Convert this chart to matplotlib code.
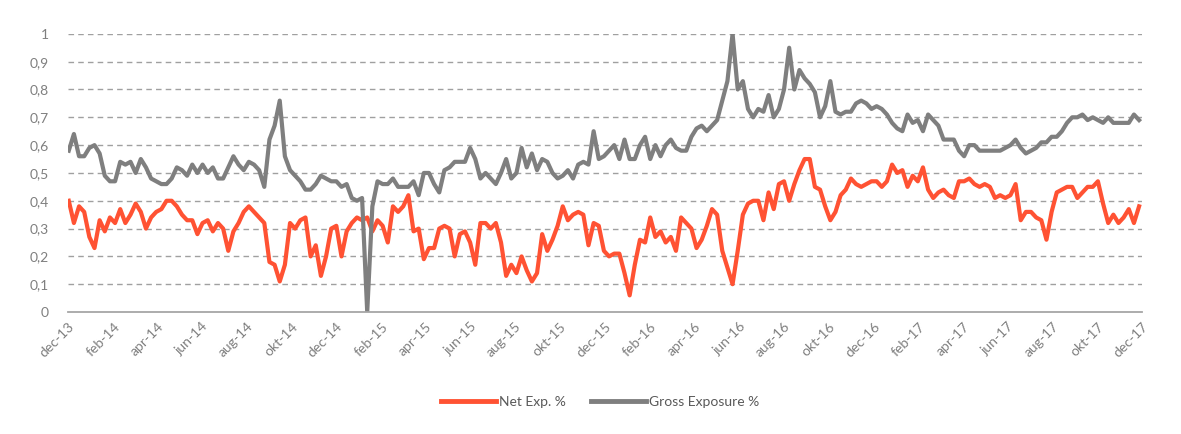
# Net / gross exposure, weekly values
import matplotlib.pyplot as plt
import pandas as pd

weeks = pd.date_range('2013-12-02', periods=209, freq='W-MON')

net_exp = [
    0.40, 0.32, 0.38, 0.36, 0.27, 0.23, 0.33, 0.29, 0.34, 0.32,
    0.37, 0.32, 0.35, 0.39, 0.36, 0.30, 0.34, 0.36, 0.37, 0.40,
    0.40, 0.38, 0.35, 0.33, 0.33, 0.28, 0.32, 0.33, 0.29, 0.32,
    0.30, 0.22, 0.29, 0.32, 0.36, 0.38, 0.36, 0.34, 0.32, 0.18,
    0.17, 0.11, 0.17, 0.32, 0.30, 0.33, 0.34, 0.20, 0.24, 0.13,
    0.20, 0.30, 0.31, 0.20, 0.29, 0.32, 0.34, 0.33, 0.34, 0.29,
    0.33, 0.31, 0.25, 0.38, 0.36, 0.38, 0.42, 0.29, 0.30, 0.19,
    0.23, 0.23, 0.30, 0.31, 0.30, 0.20, 0.28, 0.29, 0.25, 0.17,
    0.32, 0.32, 0.30, 0.32, 0.25, 0.13, 0.17, 0.14, 0.20, 0.15,
    0.11, 0.14, 0.28, 0.22, 0.26, 0.31, 0.38, 0.33, 0.35, 0.36,
    0.35, 0.24, 0.32, 0.31, 0.22, 0.20, 0.21, 0.21, 0.14, 0.06,
    0.17, 0.26, 0.25, 0.34, 0.27, 0.29, 0.25, 0.27, 0.22, 0.34,
    0.32, 0.30, 0.23, 0.26, 0.31, 0.37, 0.35, 0.22, 0.16, 0.10,
    0.22, 0.35, 0.39, 0.40, 0.40, 0.33, 0.43, 0.37, 0.46, 0.47,
    0.40, 0.46, 0.51, 0.55, 0.55, 0.45, 0.44, 0.38, 0.33, 0.36,
    0.42, 0.44, 0.48, 0.46, 0.45, 0.46, 0.47, 0.47, 0.45, 0.47,
    0.53, 0.50, 0.51, 0.45, 0.49, 0.47, 0.52, 0.44, 0.41, 0.43,
    0.44, 0.42, 0.41, 0.47, 0.47, 0.48, 0.46, 0.45, 0.46, 0.45,
    0.41, 0.42, 0.41, 0.42, 0.46, 0.33, 0.36, 0.36, 0.34, 0.33,
    0.26, 0.36, 0.43, 0.44, 0.45, 0.45, 0.41, 0.43, 0.45, 0.45,
    0.47, 0.39, 0.32, 0.35, 0.32, 0.34, 0.37, 0.32, 0.38,
]

gross_exp = [
    0.58, 0.64, 0.56, 0.56, 0.59, 0.60, 0.57, 0.49, 0.47, 0.47,
    0.54, 0.53, 0.54, 0.50, 0.55, 0.52, 0.48, 0.47, 0.46, 0.46,
    0.48, 0.52, 0.51, 0.49, 0.53, 0.50, 0.53, 0.50, 0.52, 0.48,
    0.48, 0.52, 0.56, 0.53, 0.51, 0.54, 0.53, 0.51, 0.45, 0.62,
    0.67, 0.76, 0.56, 0.51, 0.49, 0.47, 0.44, 0.44, 0.46, 0.49,
    0.48, 0.47, 0.47, 0.45, 0.46, 0.41, 0.40, 0.41, 0.00, 0.38,
    0.47, 0.46, 0.46, 0.48, 0.45, 0.45, 0.45, 0.47, 0.42, 0.50,
    0.50, 0.46, 0.43, 0.51, 0.52, 0.54, 0.54, 0.54, 0.59, 0.55,
    0.48, 0.50, 0.48, 0.46, 0.50, 0.55, 0.48, 0.50, 0.59, 0.52,
    0.57, 0.51, 0.55, 0.54, 0.50, 0.48, 0.49, 0.51, 0.48, 0.53,
    0.54, 0.53, 0.65, 0.55, 0.56, 0.58, 0.60, 0.55, 0.62, 0.55,
    0.55, 0.60, 0.63, 0.55, 0.60, 0.56, 0.60, 0.62, 0.59, 0.58,
    0.58, 0.63, 0.66, 0.67, 0.65, 0.67, 0.69, 0.76, 0.83, 1.00,
    0.80, 0.83, 0.73, 0.70, 0.73, 0.72, 0.78, 0.70, 0.73, 0.80,
    0.95, 0.80, 0.87, 0.84, 0.82, 0.79, 0.70, 0.74, 0.83, 0.72,
    0.71, 0.72, 0.72, 0.75, 0.76, 0.75, 0.73, 0.74, 0.73, 0.71,
    0.68, 0.66, 0.65, 0.71, 0.68, 0.69, 0.65, 0.71, 0.69, 0.67,
    0.62, 0.62, 0.62, 0.58, 0.56, 0.60, 0.60, 0.58, 0.58, 0.58,
    0.58, 0.58, 0.59, 0.60, 0.62, 0.59, 0.57, 0.58, 0.59, 0.61,
    0.61, 0.63, 0.63, 0.65, 0.68, 0.70, 0.70, 0.71, 0.69, 0.70,
    0.69, 0.68, 0.70, 0.68, 0.68, 0.68, 0.68, 0.71, 0.69,
]

tick_dates = pd.date_range('2013-12-01', periods=25, freq='2MS')
tick_labels = ['dec-13', 'feb-14', 'apr-14', 'jun-14', 'aug-14', 'okt-14', 'dec-14',
               'feb-15', 'apr-15', 'jun-15', 'aug-15', 'okt-15', 'dec-15',
               'feb-16', 'apr-16', 'jun-16', 'aug-16', 'okt-16', 'dec-16',
               'feb-17', 'apr-17', 'jun-17', 'aug-17', 'okt-17', 'dec-17']
y_ticks = [0, 0.1, 0.2, 0.3, 0.4, 0.5, 0.6, 0.7, 0.8, 0.9, 1]
y_labels = ['0', '0,1', '0,2', '0,3', '0,4', '0,5', '0,6', '0,7', '0,8', '0,9', '1']

plt.rcParams['font.family'] = ['Lato', 'DejaVu Sans']
grey_txt = '#7f7f7f'

fig = plt.figure(figsize=(11.81, 4.34), dpi=100)
ax = fig.add_axes([0.0576, 0.281, 0.9094, 0.641])

ax.plot(weeks, net_exp, color='#ff5233', lw=3, label='Net Exp. %', solid_joinstyle='round')
ax.plot(weeks, gross_exp, color='#7f7f7f', lw=3, label='Gross Exposure %', solid_joinstyle='round')

ax.set_xlim(tick_dates[0], tick_dates[-1])
ax.set_ylim(0, 1)
ax.set_yticks(y_ticks)
ax.set_yticklabels(y_labels)
ax.set_xticks(tick_dates)
ax.set_xticklabels(tick_labels, rotation=45, ha='right', rotation_mode='anchor')
ax.tick_params(axis='both', length=0, colors=grey_txt, labelsize=10)
ax.tick_params(axis='y', pad=14)
ax.tick_params(axis='x', pad=6)

for v in y_ticks[1:]:
    ax.axhline(v, color='#a0a0a0', lw=1, ls=(0, (4, 3)), zorder=0)
for s in ['top', 'right', 'left']:
    ax.spines[s].set_visible(False)
ax.spines['bottom'].set_color('#a6a6a6')
ax.spines['bottom'].set_linewidth(1.3)

leg = fig.legend(loc='center', bbox_to_anchor=(0.508, 0.073), ncol=2, frameon=False,
                 fontsize=10, handlelength=4.0, columnspacing=1.8, handletextpad=0.2)
for t in leg.get_texts():
    t.set_color('#595959')
for h in leg.get_lines():
    h.set_linewidth(3.5)

plt.savefig('out.png', dpi=100)
plt.close()
